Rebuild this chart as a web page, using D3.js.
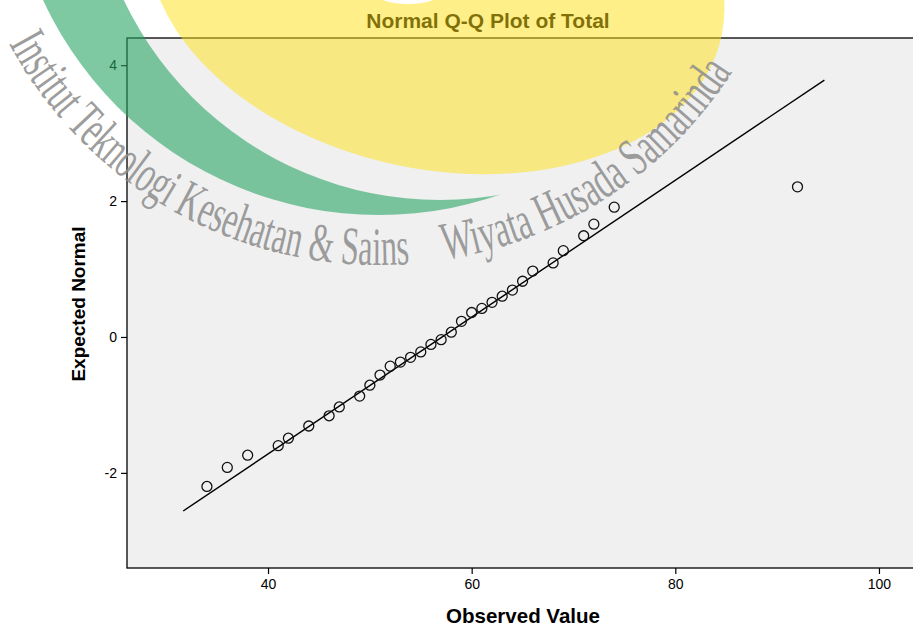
<!DOCTYPE html>
<html>
<head>
<meta charset="utf-8">
<script src="https://cdn.jsdelivr.net/npm/d3@7"></script>
<style>
  body { margin: 0; background: #fff; }
  svg { display: block; }
</style>
</head>
<body>
<svg id="chart" width="913" height="628"></svg>
<script>
// Data
var observed = [34, 36, 38, 41, 42, 44, 46, 47, 49, 50, 51, 52, 53, 54, 55, 56,
                57, 58, 59, 60, 61, 62, 63, 64, 65, 66, 68, 69, 71, 72, 74, 92];
var expectedNormal = [-2.20, -1.92, -1.74, -1.60, -1.49, -1.31, -1.16, -1.03, -0.87, -0.71,
                      -0.56, -0.43, -0.37, -0.30, -0.22, -0.11, -0.04, 0.07, 0.23, 0.36,
                      0.42, 0.51, 0.60, 0.69, 0.82, 0.97, 1.09, 1.27, 1.49, 1.66, 1.91, 2.21];
var xTicks = [40, 60, 80, 100];
var yTicks = [-2, 0, 2, 4];
var lineMean = 57.1, lineSd = 9.93;
var lineRange = [31.67, 94.64];
var titleText = "Normal Q-Q Plot of Total";
var xTitle = "Observed Value";
var yTitle = "Expected Normal";
var watermarkLeft = "Institut Teknologi Kesehatan & Sains";
var watermarkRight = "Wiyata Husada Samarinda";

var svg = d3.select("#chart")
  .attr("font-family", "'Liberation Sans', Arial, sans-serif");

var plot = { left: 127, top: 38, right: 920, bottom: 568 };

var x = d3.scaleLinear().domain([26.15, 104.03]).range([plot.left, plot.right]);
var y = d3.scaleLinear().domain([-3.4, 4.4]).range([plot.bottom, plot.top]);

// Plot frame
svg.append("rect")
  .attr("x", plot.left)
  .attr("y", plot.top)
  .attr("width", plot.right - plot.left)
  .attr("height", plot.bottom - plot.top)
  .attr("fill", "#f0f0f0")
  .attr("stroke", "#000")
  .attr("stroke-width", 1.3);

// Axes (plain hyphen for negatives, as SPSS prints them)
var plainFormat = function(d) { return String(d); };

var xAxis = svg.append("g")
  .attr("transform", "translate(0," + plot.bottom + ")")
  .call(d3.axisBottom(x).tickValues(xTicks).tickFormat(plainFormat).tickSize(6).tickPadding(5));
xAxis.select(".domain").remove();

var yAxis = svg.append("g")
  .attr("transform", "translate(" + plot.left + ",0)")
  .call(d3.axisLeft(y).tickValues(yTicks).tickFormat(plainFormat).tickSize(6).tickPadding(4));
yAxis.select(".domain").remove();

svg.selectAll(".tick line").attr("stroke", "#000").attr("stroke-width", 1.2);
svg.selectAll(".tick text")
  .attr("font-family", "'Liberation Sans', Arial, sans-serif")
  .attr("font-size", 14)
  .attr("fill", "#000");

// Reference line
svg.append("line")
  .attr("x1", x(lineRange[0]))
  .attr("y1", y((lineRange[0] - lineMean) / lineSd))
  .attr("x2", x(lineRange[1]))
  .attr("y2", y((lineRange[1] - lineMean) / lineSd))
  .attr("stroke", "#000")
  .attr("stroke-width", 1.4);

// Points
svg.append("g").selectAll("circle")
  .data(observed)
  .enter().append("circle")
    .attr("cx", function(d) { return x(d); })
    .attr("cy", function(d, i) { return y(expectedNormal[i]); })
    .attr("r", 5)
    .attr("fill", "none")
    .attr("stroke", "#111")
    .attr("stroke-width", 1.3);

// Titles
svg.append("text")
  .attr("x", 488).attr("y", 28)
  .attr("text-anchor", "middle")
  .attr("font-weight", "bold")
  .attr("font-size", 21)
  .text(titleText);

svg.append("text")
  .attr("x", 523).attr("y", 623)
  .attr("text-anchor", "middle")
  .attr("font-weight", "bold")
  .attr("font-size", 20.5)
  .text(xTitle);

svg.append("text")
  .attr("transform", "translate(85,304) rotate(-90)")
  .attr("text-anchor", "middle")
  .attr("font-weight", "bold")
  .attr("font-size", 19)
  .text(yTitle);

// Watermark logo overlay
var wm = svg.append("g").attr("pointer-events", "none");
var defs = svg.append("defs");

var mask = defs.append("mask").attr("id", "crescent");
mask.append("rect").attr("x", -200).attr("y", -600).attr("width", 1400).attr("height", 1400).attr("fill", "#fff");
mask.append("circle").attr("cx", 440).attr("cy", -150).attr("r", 350).attr("fill", "#000");

wm.append("ellipse")
  .attr("transform", "translate(436,-25) rotate(12)")
  .attr("rx", 292).attr("ry", 194)
  .attr("fill", "rgb(255,224,20)")
  .attr("fill-opacity", 0.5);

wm.append("ellipse")
  .attr("cx", 408).attr("cy", -10)
  .attr("rx", 36).attr("ry", 14)
  .attr("fill", "#fff");

wm.append("circle")
  .attr("cx", 379).attr("cy", -155).attr("r", 370)
  .attr("fill", "rgb(40,165,100)")
  .attr("fill-opacity", 0.6)
  .attr("mask", "url(#crescent)");

// Text arcs around the logo
var arcC = { x: 379, y: -155, r: 420 };
function arcPath(a0, a1) {
  var r = arcC.r, rad = Math.PI / 180;
  var p0 = [arcC.x + r * Math.cos(a0 * rad), arcC.y + r * Math.sin(a0 * rad)];
  var p1 = [arcC.x + r * Math.cos(a1 * rad), arcC.y + r * Math.sin(a1 * rad)];
  return "M" + p0[0] + "," + p0[1] + " A" + r + "," + r + " 0 0 0 " + p1[0] + "," + p1[1];
}
var arcs = [
  { id: "wmArc1", a0: 151.8, a1: 85.8, text: watermarkLeft },
  { id: "wmArc2", a0: 81.0, a1: 32.7, text: watermarkRight }
];
arcs.forEach(function(a) {
  defs.append("path").attr("id", a.id).attr("d", arcPath(a.a0, a.a1));
  var len = (a.a0 - a.a1) * Math.PI / 180 * arcC.r;
  wm.append("text")
    .attr("font-family", "'Liberation Serif', 'Times New Roman', serif")
    .attr("font-size", 54)
    .attr("fill", "#8c8c8c")
    .attr("fill-opacity", 0.85)
    .append("textPath")
      .attr("href", "#" + a.id)
      .attr("textLength", len)
      .attr("lengthAdjust", "spacingAndGlyphs")
      .text(a.text);
});
</script>
</body>
</html>
